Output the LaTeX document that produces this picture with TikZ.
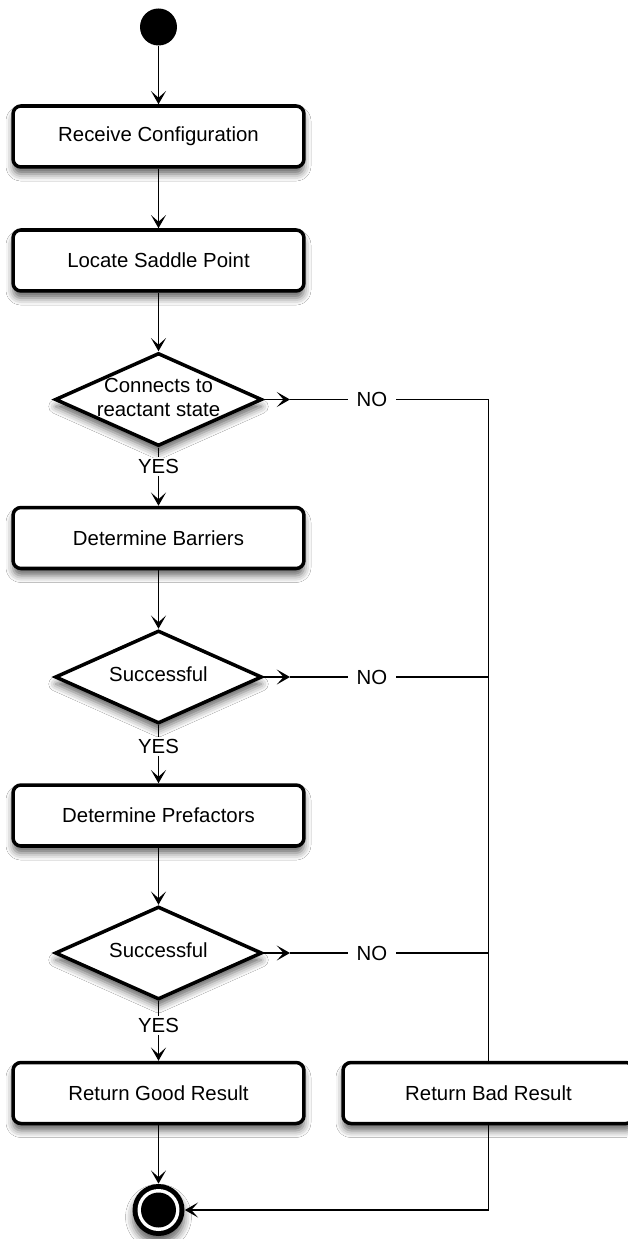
\documentclass[tikz,border=0pt]{standalone}
\usepackage{fontspec}
\newfontfamily\lblfont{Liberation Sans}
\usetikzlibrary{arrows.meta,shapes.geometric,shadows.blur}
\newcommand\dtext[1]{\makebox[0pt][c]{\begin{tabular}{@{}c@{}}#1\end{tabular}}}
\tikzset{
  lbl/.style={font={\lblfont\fontsize{11.6}{13.6}\selectfont}},
  shd/.style={blur shadow={shadow xshift=0pt, shadow yshift=-4pt, shadow blur radius=4pt, shadow opacity=60}},
  actbox/.style={lbl, draw, line width=2pt, rounded corners=4.5pt, fill=white,
    minimum width=5.82cm, minimum height=1.22cm, inner sep=0pt, shd},
  decision/.style={lbl, shape=diamond, aspect=1, draw, line width=2pt, fill=white,
    minimum width=4.14cm, minimum height=1.86cm, inner sep=0pt, shd},
  tag/.style={lbl, fill=white, inner xsep=5pt, inner ysep=1pt},
  ln/.style={line width=1.1pt},
  arr/.style={line width=1.1pt, -{Stealth[length=7.5pt,width=8.5pt,inset=3.8pt]}},
}
\begin{document}
\begin{tikzpicture}[x=0.02cm,y=-0.02cm]
\useasboundingbox (0,0) rectangle (627,1239);
\fill[white] (0,0) rectangle (627,1239);
% nodes
\node[circle, fill=black, minimum size=0.74cm, inner sep=0pt] (start) at (158.5,27) {};
\node[actbox] (b1) at (158.5,136.5) {Receive Configuration};
\node[actbox] (b2) at (158.5,260.5) {Locate Saddle Point};
\node[decision] (d1) at (158.5,399.5) {\dtext{Connects to\\reactant state}};
\node[tag, inner xsep=1pt] (y1) at (158.5,466.5) {YES};
\node[actbox] (b3) at (158.5,538) {Determine Barriers};
\node[decision] (d2) at (158.5,677) {\dtext{Successful}};
\node[tag, inner xsep=1pt] (y2) at (158.5,746.5) {YES};
\node[actbox] (b4) at (158.5,815.5) {Determine Prefactors};
\node[decision] (d3) at (158.5,953) {\dtext{Successful}};
\node[tag, inner xsep=1pt] (y3) at (158.5,1025.5) {YES};
\node[actbox] (b5) at (158.5,1093) {Return Good Result};
\node[actbox] (bad) at (488.5,1093) {Return Bad Result};
\node[circle, fill=black, minimum size=1.04cm, inner sep=0pt, shd] (end) at (158.5,1210) {};
\fill[white] (end.center) circle (0.42cm);
\fill[black] (end.center) circle (0.35cm);
\node[tag] (n1) at (372,399.5) {NO};
\node[tag] (n2) at (372,677) {NO};
\node[tag] (n3) at (372,953) {NO};
\coordinate (a1) at (290,399.5);
\coordinate (a2) at (290,677);
\coordinate (a3) at (290,953);
\coordinate (j1) at (488.5,399.5);
\coordinate (j2) at (488.5,677);
\coordinate (j3) at (488.5,953);
% connectors
\draw[arr] (start.south) -- (b1.north);
\draw[arr] (b1.south) -- (b2.north);
\draw[arr] (b2.south) -- (d1.north);
\draw[ln] (d1.south) -- (y1.north);
\draw[arr] (y1.south) -- (b3.north);
\draw[arr] (b3.south) -- (d2.north);
\draw[ln] (d2.south) -- (y2.north);
\draw[arr] (y2.south) -- (b4.north);
\draw[arr] (b4.south) -- (d3.north);
\draw[ln] (d3.south) -- (y3.north);
\draw[arr] (y3.south) -- (b5.north);
\draw[arr] (b5.south) -- (end.north);
\draw[arr] (d1.east) -- (a1);
\draw[arr] (d2.east) -- (a2);
\draw[arr] (d3.east) -- (a3);
\draw[ln] (a1) -- (n1.west);
\draw[ln] (a2) -- (n2.west);
\draw[ln] (a3) -- (n3.west);
\draw[ln] (n1.east) -- (j1) -- (bad.north);
\draw[ln] (n2.east) -- (j2);
\draw[ln] (n3.east) -- (j3);
\draw[arr] (bad.south) |- (end.east);
\end{tikzpicture}
\end{document}
